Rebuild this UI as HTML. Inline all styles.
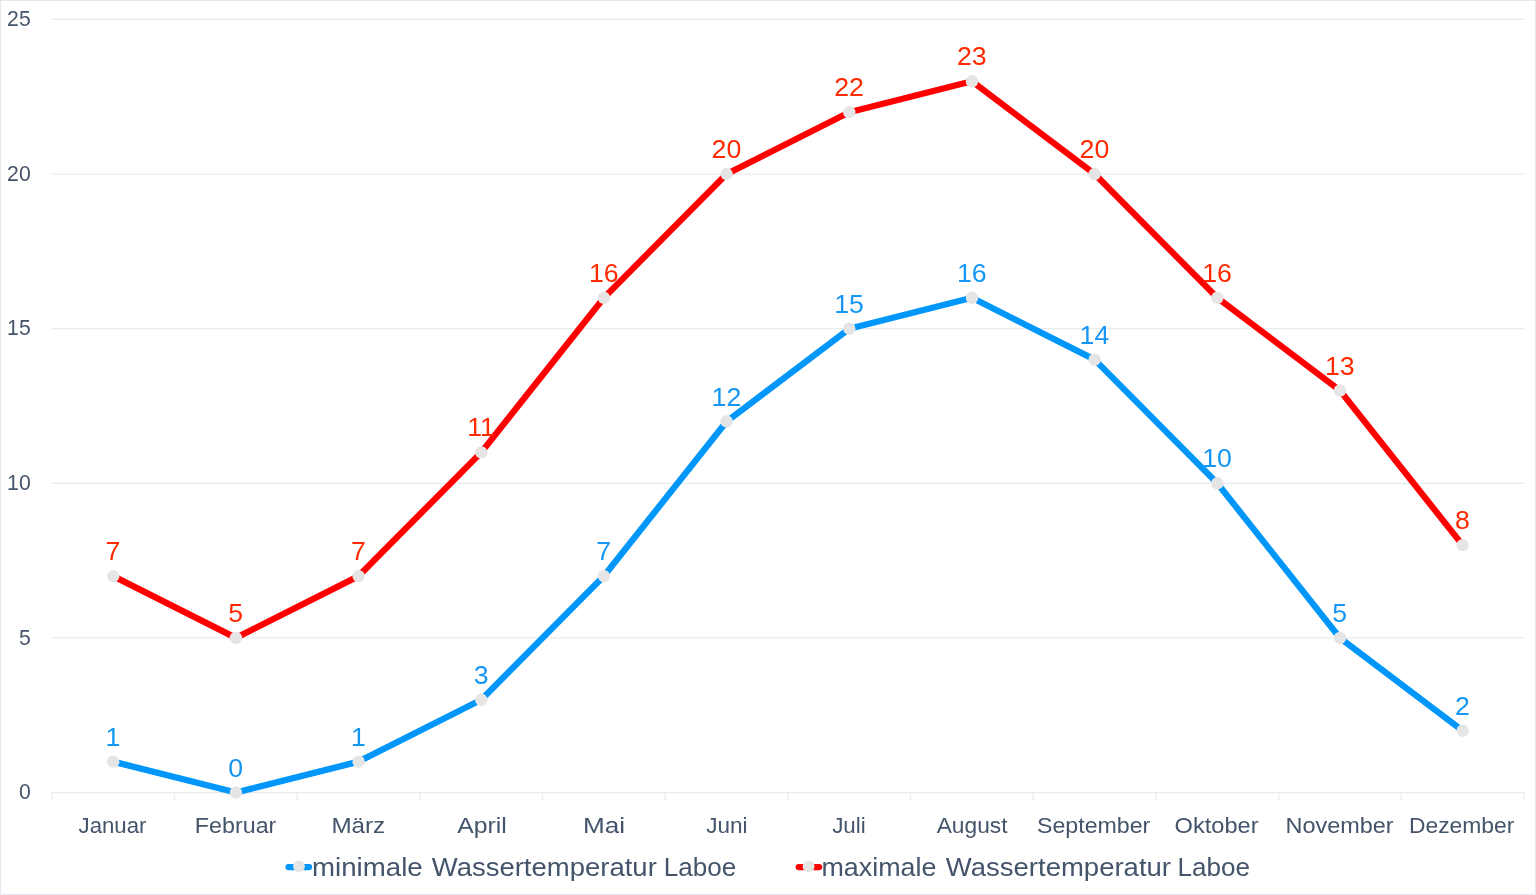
<!DOCTYPE html>
<html lang="de"><head><meta charset="utf-8"><title>Wassertemperatur Laboe</title>
<style>
html,body{margin:0;padding:0;background:#fff;}
body{width:1536px;height:895px;overflow:hidden;}
svg{display:block;font-family:"Liberation Sans",sans-serif;}
.ax{font-size:21.2px;fill:#44546a;text-anchor:end;}
.cat{font-size:22.3px;fill:#44546a;}
.lb{font-size:26.7px;text-anchor:middle;}
.leg{font-size:26.5px;fill:#44546a;}
</style></head><body>
<svg width="1536" height="895" viewBox="0 0 1536 895">
<rect x="0.5" y="0.5" width="1535" height="894" fill="#fff" stroke="#e4e9ef" stroke-width="1"/>

<g stroke="#e8ebef" stroke-width="1.3" fill="none">
<line x1="51.3" y1="792.55" x2="1524.6" y2="792.55"/>
<line x1="51.3" y1="637.93" x2="1524.6" y2="637.93"/>
<line x1="51.3" y1="483.31" x2="1524.6" y2="483.31"/>
<line x1="51.3" y1="328.69" x2="1524.6" y2="328.69"/>
<line x1="51.3" y1="174.07" x2="1524.6" y2="174.07"/>
<line x1="51.3" y1="19.45" x2="1524.6" y2="19.45"/>
<line x1="51.90" y1="792.55" x2="51.90" y2="800.9499999999999"/>
<line x1="174.57" y1="792.55" x2="174.57" y2="800.9499999999999"/>
<line x1="297.25" y1="792.55" x2="297.25" y2="800.9499999999999"/>
<line x1="419.92" y1="792.55" x2="419.92" y2="800.9499999999999"/>
<line x1="542.60" y1="792.55" x2="542.60" y2="800.9499999999999"/>
<line x1="665.27" y1="792.55" x2="665.27" y2="800.9499999999999"/>
<line x1="787.95" y1="792.55" x2="787.95" y2="800.9499999999999"/>
<line x1="910.62" y1="792.55" x2="910.62" y2="800.9499999999999"/>
<line x1="1033.30" y1="792.55" x2="1033.30" y2="800.9499999999999"/>
<line x1="1155.98" y1="792.55" x2="1155.98" y2="800.9499999999999"/>
<line x1="1278.65" y1="792.55" x2="1278.65" y2="800.9499999999999"/>
<line x1="1401.33" y1="792.55" x2="1401.33" y2="800.9499999999999"/>
<line x1="1524.00" y1="792.55" x2="1524.00" y2="800.9499999999999"/>
</g>
<g class="ax">
<text x="30.7" y="799.25">0</text>
<text x="30.7" y="644.63">5</text>
<text x="30.7" y="490.01">10</text>
<text x="30.7" y="335.39">15</text>
<text x="30.7" y="180.77">20</text>
<text x="30.7" y="26.15">25</text>
</g>
<g class="cat">
<text x="78.60" y="832.6" textLength="67.83" lengthAdjust="spacingAndGlyphs">Januar</text>
<text x="194.87" y="832.6" textLength="81.47" lengthAdjust="spacingAndGlyphs">Februar</text>
<text x="331.40" y="832.6" textLength="53.75" lengthAdjust="spacingAndGlyphs">März</text>
<text x="457.30" y="832.6" textLength="49.49" lengthAdjust="spacingAndGlyphs">April</text>
<text x="582.95" y="832.6" textLength="42.03" lengthAdjust="spacingAndGlyphs">Mai</text>
<text x="706.20" y="832.6" textLength="41.22" lengthAdjust="spacingAndGlyphs">Juni</text>
<text x="832.20" y="832.6" textLength="33.57" lengthAdjust="spacingAndGlyphs">Juli</text>
<text x="936.70" y="832.6" textLength="70.78" lengthAdjust="spacingAndGlyphs">August</text>
<text x="1036.96" y="832.6" textLength="113.38" lengthAdjust="spacingAndGlyphs">September</text>
<text x="1174.64" y="832.6" textLength="84.01" lengthAdjust="spacingAndGlyphs">Oktober</text>
<text x="1285.46" y="832.6" textLength="108.22" lengthAdjust="spacingAndGlyphs">November</text>
<text x="1408.91" y="832.6" textLength="105.46" lengthAdjust="spacingAndGlyphs">Dezember</text>
</g>
<polyline points="113.24,761.63 235.91,792.55 358.59,761.63 481.26,699.78 603.94,576.08 726.61,421.46 849.29,328.69 971.96,297.77 1094.64,359.61 1217.31,483.31 1339.99,637.93 1462.66,730.70" fill="none" stroke="#0096fa" stroke-width="6.3" stroke-linejoin="round" stroke-linecap="butt"/>
<g fill="#e5e5e5">
<circle cx="113.24" cy="761.63" r="6.2"/>
<circle cx="235.91" cy="792.55" r="6.2"/>
<circle cx="358.59" cy="761.63" r="6.2"/>
<circle cx="481.26" cy="699.78" r="6.2"/>
<circle cx="603.94" cy="576.08" r="6.2"/>
<circle cx="726.61" cy="421.46" r="6.2"/>
<circle cx="849.29" cy="328.69" r="6.2"/>
<circle cx="971.96" cy="297.77" r="6.2"/>
<circle cx="1094.64" cy="359.61" r="6.2"/>
<circle cx="1217.31" cy="483.31" r="6.2"/>
<circle cx="1339.99" cy="637.93" r="6.2"/>
<circle cx="1462.66" cy="730.70" r="6.2"/>
</g>
<g class="lb" fill="#1496f5">
<text x="113.04" y="745.73">1</text>
<text x="235.71" y="776.65">0</text>
<text x="358.39" y="745.73">1</text>
<text x="481.06" y="683.88">3</text>
<text x="603.74" y="560.18">7</text>
<text x="726.41" y="405.56">12</text>
<text x="849.09" y="312.79">15</text>
<text x="971.76" y="281.87">16</text>
<text x="1094.44" y="343.71">14</text>
<text x="1217.11" y="467.41">10</text>
<text x="1339.79" y="622.03">5</text>
<text x="1462.46" y="714.80">2</text>
</g>
<polyline points="113.24,576.08 235.91,637.93 358.59,576.08 481.26,452.39 603.94,297.77 726.61,174.07 849.29,112.22 971.96,81.30 1094.64,174.07 1217.31,297.77 1339.99,390.54 1462.66,545.16" fill="none" stroke="#ff0000" stroke-width="6.3" stroke-linejoin="round" stroke-linecap="butt"/>
<g fill="#e5e5e5">
<circle cx="113.24" cy="576.08" r="6.2"/>
<circle cx="235.91" cy="637.93" r="6.2"/>
<circle cx="358.59" cy="576.08" r="6.2"/>
<circle cx="481.26" cy="452.39" r="6.2"/>
<circle cx="603.94" cy="297.77" r="6.2"/>
<circle cx="726.61" cy="174.07" r="6.2"/>
<circle cx="849.29" cy="112.22" r="6.2"/>
<circle cx="971.96" cy="81.30" r="6.2"/>
<circle cx="1094.64" cy="174.07" r="6.2"/>
<circle cx="1217.31" cy="297.77" r="6.2"/>
<circle cx="1339.99" cy="390.54" r="6.2"/>
<circle cx="1462.66" cy="545.16" r="6.2"/>
</g>
<g class="lb" fill="#ff2a00">
<text x="113.04" y="560.18">7</text>
<text x="235.71" y="622.03">5</text>
<text x="358.39" y="560.18">7</text>
<text x="481.06" y="436.49">11</text>
<text x="603.74" y="281.87">16</text>
<text x="726.41" y="158.17">20</text>
<text x="849.09" y="96.32">22</text>
<text x="971.76" y="65.40">23</text>
<text x="1094.44" y="158.17">20</text>
<text x="1217.11" y="281.87">16</text>
<text x="1339.79" y="374.64">13</text>
<text x="1462.46" y="529.26">8</text>
</g>
<line x1="288.54999999999995" y1="867.1" x2="309.05" y2="867.1" stroke="#0096fa" stroke-width="6.3" stroke-linecap="round"/>
<circle cx="299.0" cy="866.3" r="5.9" fill="#e5e5e5"/>
<text class="leg" y="875.9"><tspan x="312.08" textLength="110.56" lengthAdjust="spacingAndGlyphs">minimale</tspan> <tspan x="431.74" textLength="225.05" lengthAdjust="spacingAndGlyphs">Wassertemperatur</tspan> <tspan x="663.69" textLength="72.50" lengthAdjust="spacingAndGlyphs">Laboe</tspan></text>
<line x1="798.75" y1="867.1" x2="819.0500000000001" y2="867.1" stroke="#ff0000" stroke-width="6.3" stroke-linecap="round"/>
<circle cx="808.6" cy="866.3" r="5.9" fill="#e5e5e5"/>
<text class="leg" y="875.9"><tspan x="821.53" textLength="114.83" lengthAdjust="spacingAndGlyphs">maximale</tspan> <tspan x="945.84" textLength="225.15" lengthAdjust="spacingAndGlyphs">Wassertemperatur</tspan> <tspan x="1177.59" textLength="72.50" lengthAdjust="spacingAndGlyphs">Laboe</tspan></text>
</svg></body></html>
